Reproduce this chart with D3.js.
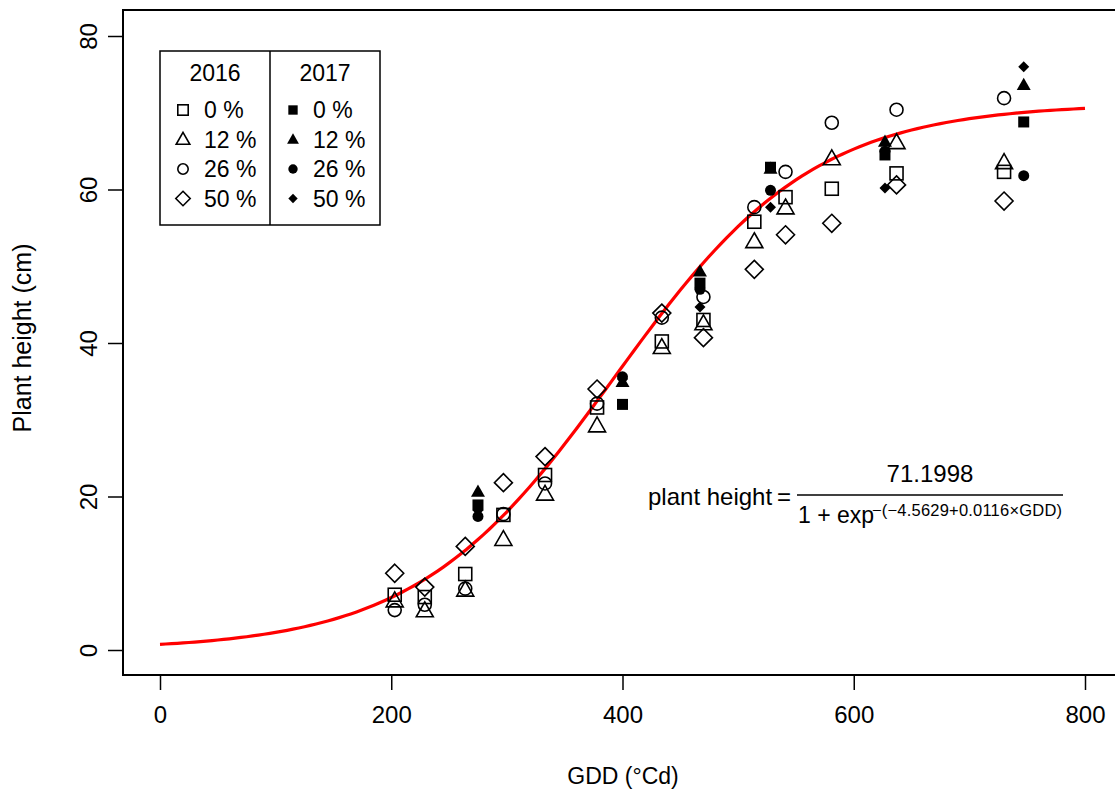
<!DOCTYPE html>
<html>
<head>
<meta charset="utf-8">
<script src="https://cdn.jsdelivr.net/npm/d3@7"></script>
<style>
  body { margin: 0; background: #fff; }
  svg { font-family: 'Liberation Sans', Arial, sans-serif; }
</style>
</head>
<body>
<div id="chart"></div>
<script>
// GDD dates for each year
const gdd2016 = [203, 229, 264, 297, 333, 378, 434, 470, 514, 541, 581, 637, 730]
const gdd2017 = [275, 400, 467, 528, 627, 747]

// plant height (cm) per fertiliser level, 2016
const h2016_0 = [7.2, 6.9, 9.9, 17.6, 22.8, 31.6, 40.2, 43.0, 55.8, 59.0, 60.1, 62.1, 62.3]
const h2016_12 = [6.4, 5.1, 7.8, 14.4, 20.3, 29.2, 39.4, 42.5, 53.2, 57.6, 64.0, 66.1, 63.5]
const h2016_26 = [5.2, 5.9, 8.0, 17.7, 21.7, 32.1, 43.3, 46.0, 57.7, 62.3, 68.7, 70.4, 71.9]
const h2016_50 = [10.0, 8.2, 13.5, 21.8, 25.2, 34.0, 43.9, 40.7, 49.6, 54.1, 55.6, 60.6, 58.5]

// 2017
const h2017_0 = [18.9, 32.0, 47.8, 62.9, 64.5, 68.8]
const h2017_12 = [20.6, 34.9, 49.3, 62.7, 66.2, 73.6]
const h2017_26 = [17.4, 35.6, 47.0, 59.9, 65.0, 61.8]
const h2017_50 = [18.2, 35.3, 44.7, 57.7, 60.2, 76.0]

const levels = ['0 %', '12 %', '26 %', '50 %']
const xTicks = [0, 200, 400, 600, 800]
const yTicks = [0, 20, 40, 60, 80]

// logistic fit shown on the chart
const fitA = 71.1998
const fitB = -4.5629
const fitC = 0.0116

const width = 1115
const height = 791

const svg = d3.select('#chart')
  .append('svg')
  .attr('width', width)
  .attr('height', height)

const x = d3.scaleLinear().domain([0, 800]).range([160, 1085])
const y = d3.scaleLinear().domain([0, 80]).range([650, 36])

const box = { left: 123, top: 10, right: 1118, bottom: 675 }

// axes
const xAxis = svg.append('g')
  .attr('transform', `translate(0,${box.bottom})`)
  .call(d3.axisBottom(x).tickValues(xTicks).tickSize(15).tickPadding(16))
const yAxis = svg.append('g')
  .attr('transform', `translate(${box.left},0)`)
  .call(d3.axisLeft(y).tickValues(yTicks).tickSize(15))

xAxis.select('.domain').remove()
yAxis.select('.domain').remove()
svg.selectAll('.tick line').attr('stroke', '#000').attr('stroke-width', 1.5)
xAxis.selectAll('text').attr('font-size', 24).attr('fill', '#000')
  .attr('font-family', 'Liberation Sans, Arial, sans-serif')
yAxis.selectAll('.tick text')
  .attr('font-size', 24).attr('fill', '#000')
  .attr('font-family', 'Liberation Sans, Arial, sans-serif')
  .attr('text-anchor', 'middle')
  .attr('x', 0)
  .attr('y', 0)
  .attr('dy', null)
  .attr('transform', 'translate(-35,0) rotate(-90)')
  .attr('dominant-baseline', 'central')

svg.append('rect')
  .attr('x', box.left).attr('y', box.top)
  .attr('width', box.right - box.left).attr('height', box.bottom - box.top)
  .attr('fill', 'none').attr('stroke', '#000').attr('stroke-width', 2)

// titles
svg.append('text').text('GDD (°Cd)')
  .attr('x', 623).attr('y', 784)
  .attr('text-anchor', 'middle').attr('font-size', 23)
svg.append('text').text('Plant height (cm)')
  .attr('transform', 'translate(31,338) rotate(-90)')
  .attr('text-anchor', 'middle').attr('font-size', 25)

// fitted curve
const curveX = d3.range(0, 801, 5)
const line = d3.line()
  .x(d => x(d))
  .y(d => y(fitA / (1 + Math.exp(-(fitB + fitC * d)))))
svg.append('path')
  .datum(curveX)
  .attr('d', line)
  .attr('fill', 'none')
  .attr('stroke', '#ff0000')
  .attr('stroke-width', 3.2)

// symbol drawing helper (R-like pch)
function drawSymbol(g, type, filled, cx, cy, scale) {
  const s = scale || 1
  const fill = filled ? '#000' : 'none'
  const sw = 1.6
  if (type === 0) {
    const a = (filled ? 11 : 13) * s
    g.append('rect').attr('x', cx - a / 2).attr('y', cy - a / 2)
      .attr('width', a).attr('height', a)
      .attr('fill', fill).attr('stroke', filled ? 'none' : '#000').attr('stroke-width', sw)
  } else if (type === 1) {
    const r = (filled ? 7 : 8.5) * s
    const pts = [[cx, cy - r * 1.05], [cx + r, cy + r * 0.7], [cx - r, cy + r * 0.7]]
    g.append('polygon').attr('points', pts.map(p => p.join(',')).join(' '))
      .attr('fill', fill).attr('stroke', filled ? 'none' : '#000').attr('stroke-width', sw)
  } else if (type === 2) {
    const r = (filled ? 5.5 : 6.5) * s
    g.append('circle').attr('cx', cx).attr('cy', cy).attr('r', r)
      .attr('fill', fill).attr('stroke', filled ? 'none' : '#000').attr('stroke-width', sw)
  } else {
    const r = (filled ? 5.5 : 9) * s
    const pts = [[cx, cy - r], [cx + r, cy], [cx, cy + r], [cx - r, cy]]
    g.append('polygon').attr('points', pts.map(p => p.join(',')).join(' '))
      .attr('fill', fill).attr('stroke', filled ? 'none' : '#000').attr('stroke-width', sw)
  }
}

const series2016 = [h2016_0, h2016_12, h2016_26, h2016_50]
const series2017 = [h2017_0, h2017_12, h2017_26, h2017_50]

const pts = svg.append('g')
series2016.forEach((vals, k) => {
  vals.forEach((v, i) => drawSymbol(pts, k, false, x(gdd2016[i]), y(v)))
})
series2017.forEach((vals, k) => {
  vals.forEach((v, i) => drawSymbol(pts, k, true, x(gdd2017[i]), y(v)))
})

// legend
const leg = svg.append('g')
leg.append('rect').attr('x', 160).attr('y', 51).attr('width', 220).attr('height', 174)
  .attr('fill', '#fff').attr('stroke', '#000').attr('stroke-width', 1.5)
leg.append('line').attr('x1', 270).attr('x2', 270).attr('y1', 51).attr('y2', 225)
  .attr('stroke', '#000').attr('stroke-width', 1.5)
leg.append('text').text('2016').attr('x', 215).attr('y', 81)
  .attr('text-anchor', 'middle').attr('font-size', 23)
leg.append('text').text('2017').attr('x', 325).attr('y', 81)
  .attr('text-anchor', 'middle').attr('font-size', 23)
levels.forEach((lab, k) => {
  const yy = 118 + k * 29.5
  drawSymbol(leg, k, false, 183, yy - 8, 0.8)
  leg.append('text').text(lab).attr('x', 204).attr('y', yy).attr('font-size', 23)
  drawSymbol(leg, k, true, 293, yy - 8, 0.85)
  leg.append('text').text(lab).attr('x', 313).attr('y', yy).attr('font-size', 23)
})

// equation
const eq = svg.append('g')
eq.append('text').text('plant height').attr('x', 648).attr('y', 505).attr('font-size', 24)
eq.append('text').text('=').attr('x', 777).attr('y', 505).attr('font-size', 24)
eq.append('text').text('71.1998').attr('x', 930).attr('y', 482)
  .attr('text-anchor', 'middle').attr('font-size', 24)
eq.append('line').attr('x1', 797).attr('x2', 1063).attr('y1', 495).attr('y2', 495)
  .attr('stroke', '#000').attr('stroke-width', 1.3)
eq.append('text').text('1 + exp').attr('x', 798).attr('y', 523).attr('font-size', 23)
eq.append('text').text('−(−4.5629+0.0116×GDD)').attr('x', 872).attr('y', 516)
  .attr('font-size', 16.5).attr('textLength', 190)
</script>
</body>
</html>
